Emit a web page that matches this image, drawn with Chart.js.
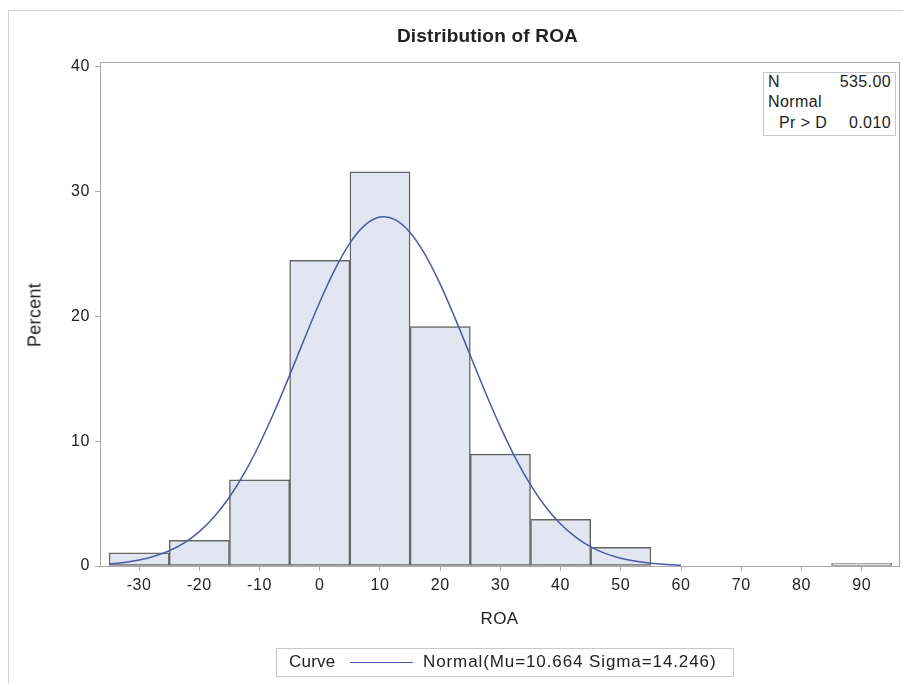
<!DOCTYPE html>
<html><head><meta charset="utf-8">
<script src="https://cdn.jsdelivr.net/npm/chart.js@4/dist/chart.umd.min.js"></script>
<style>
html,body{margin:0;padding:0;background:#fff;}
#wrap{position:relative;width:903px;height:684px;overflow:hidden;font-family:"Liberation Sans",Arial,sans-serif;color:#222;}
#frame{position:absolute;left:8px;top:10px;width:1000px;height:1000px;border-top:1px solid #d4d4d4;border-left:1px solid #d4d4d4;}
canvas{position:absolute;left:0;top:0;}
.t{position:absolute;white-space:nowrap;}
#title{left:88px;width:799px;top:25px;text-align:center;font-weight:bold;font-size:19px;letter-spacing:0.2px;}
#xlab{left:100px;width:799px;top:609px;text-align:center;font-size:17px;letter-spacing:0.4px;}
#ylab{left:35px;top:315px;font-size:18px;letter-spacing:0.3px;transform:translate(-50%,-50%) rotate(-90deg);}
#inset{position:absolute;left:763px;top:72px;width:131px;height:62px;border:1px solid #c8c8c8;background:#fff;font-size:16px;letter-spacing:0.4px;}
#legend{position:absolute;left:276px;top:648px;width:456px;height:27px;border:1px solid #c8c8c8;font-size:17px;}
</style>
</head><body>
<div id="wrap">
<div id="frame"></div>
<canvas id="c" width="903" height="684"></canvas>
<div class="t" id="title">Distribution of ROA</div>
<div class="t" id="xlab">ROA</div>
<div class="t" id="ylab">Percent</div>
<div id="inset">
  <div class="t" style="left:4px;top:0px;">N</div>
  <div class="t" style="right:4px;top:0px;">535.00</div>
  <div class="t" style="left:4px;top:20px;">Normal</div>
  <div class="t" style="left:15px;top:41px;">Pr &gt; D</div>
  <div class="t" style="right:4px;top:41px;">0.010</div>
</div>
<div id="legend">
  <div class="t" style="left:12px;top:3px;letter-spacing:0.2px;">Curve</div>
  <div style="position:absolute;left:73px;top:13px;width:63px;border-top:1.5px solid #4a5ba3;"></div>
  <div class="t" style="left:146px;top:3px;letter-spacing:0.9px;">Normal(Mu=10.664 Sigma=14.246)</div>
</div>
</div>
<script>
// ---- data ----
const binCenters  = [-30, -20, -10, 0, 10, 20, 30, 40, 50, 60, 70, 80, 90];
const binPercents = [1.05, 2.06, 6.9, 24.5, 31.6, 19.2, 8.97, 3.74, 1.5, null, null, null, 0.19];
const curveX = [-35,-32.5,-30,-27.5,-25,-22.5,-20,-17.5,-15,-12.5,-10,-7.5,-5,-2.5,0,2.5,5,7.5,10,12.5,15,17.5,20,22.5,25,27.5,30,32.5,35,37.5,40,42.5,45,47.5,50,52.5,55,57.5,60];
const curveY = [0.16,0.28,0.48,0.78,1.22,1.86,2.76,3.97,5.53,7.47,9.78,12.42,15.30,18.27,21.16,23.76,25.88,27.32,27.97,27.77,26.74,24.96,22.59,19.83,16.88,13.93,11.15,8.65,6.51,4.75,3.36,2.31,1.53,0.99,0.62,0.38,0.22,0.13,0.07];
const xTickLabels = [-30, -20, -10, 0, 10, 20, 30, 40, 50, 60, 70, 80, 90];
const yTickLabels = [0, 10, 20, 30, 40];

const FONT = '"Liberation Sans", Arial, sans-serif';
const AXIS = '#a8a8a8';

const framePlugin = {
  id: 'frame',
  beforeDraw(chart) {
    try { chart.ctx.letterSpacing = '0.6px'; } catch (e) {}
  },
  afterDraw(chart) {
    const a = chart.chartArea, ctx = chart.ctx;
    ctx.save();
    ctx.strokeStyle = AXIS; ctx.lineWidth = 1;
    ctx.strokeRect(Math.round(a.left) + 0.5, Math.round(a.top) + 0.5, Math.round(a.right - a.left), Math.round(a.bottom - a.top));
    ctx.restore();
  }
};

new Chart(document.getElementById('c'), {
  type: 'bar',
  data: {
    datasets: [
      {
        type: 'line',
        order: 0,
        data: curveX.map((x, i) => ({x: x, y: curveY[i]})),
        borderColor: '#4a5ba3',
        borderWidth: 1.5,
        pointRadius: 0,
        tension: 0.3,
        fill: false
      },
      {
        type: 'bar',
        order: 1,
        data: binCenters.map((x, i) => ({x: x, y: binPercents[i]})),
        backgroundColor: '#e1e6f0',
        borderColor: '#666666',
        borderWidth: 1.5,
        borderSkipped: false,
        barPercentage: 1,
        categoryPercentage: 1,
        grouped: false
      }
    ]
  },
  options: {
    responsive: false,
    animation: false,
    events: [],
    layout: {padding: {top: 62, right: 4, left: 0, bottom: 0}},
    plugins: {legend: {display: false}, title: {display: false}, tooltip: {enabled: false}},
    scales: {
      x: {
        type: 'linear',
        offset: false,
        min: -36.5, max: 96.2,
        afterBuildTicks: s => { s.ticks = xTickLabels.map(v => ({value: v})); },
        afterFit: s => { s.height = 118; },
        grid: {drawOnChartArea: false, drawTicks: true, tickLength: 5, color: AXIS, offset: false},
        border: {color: AXIS, width: 1},
        ticks: {color: '#222', font: {family: FONT, size: 16}, padding: 5, maxRotation: 0, autoSkip: false}
      },
      y: {
        type: 'linear',
        min: 0, max: 40.4,
        afterBuildTicks: s => { s.ticks = yTickLabels.map(v => ({value: v})); },
        afterFit: s => { s.width = 100; },
        grid: {drawOnChartArea: false, drawTicks: true, tickLength: 5, color: AXIS},
        border: {color: AXIS, width: 1},
        ticks: {color: '#222', font: {family: FONT, size: 16}, padding: 5}
      }
    }
  },
  plugins: [framePlugin]
});
</script>
</body></html>
